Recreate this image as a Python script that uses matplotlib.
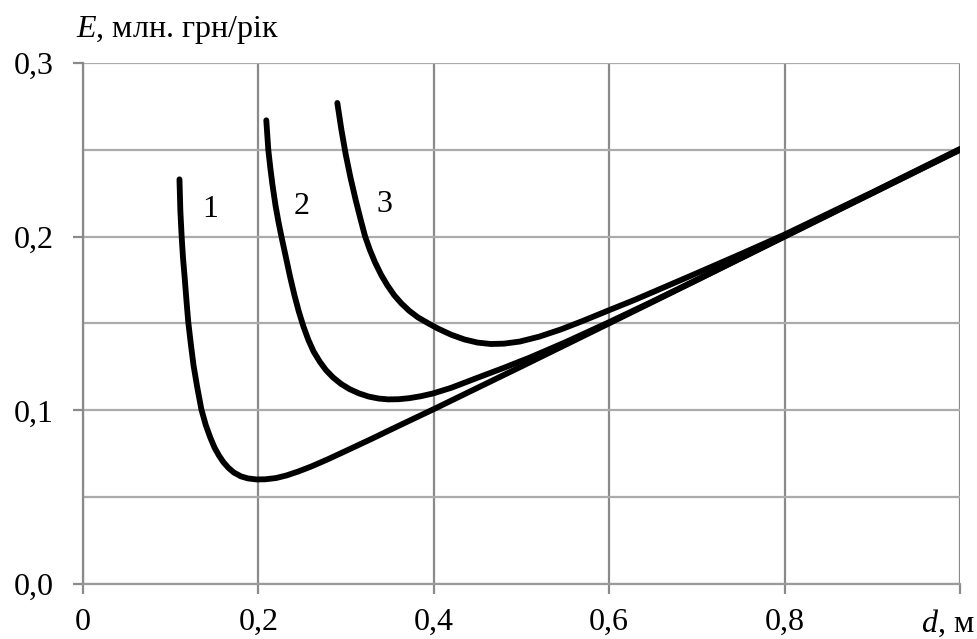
import matplotlib
matplotlib.use('Agg')
import matplotlib.pyplot as plt
from matplotlib.ticker import MultipleLocator, FixedLocator

plt.rcParams['font.family'] = ['Liberation Serif', 'DejaVu Serif']
plt.rcParams['mathtext.fontset'] = 'custom'
plt.rcParams['mathtext.rm'] = 'Liberation Serif'
plt.rcParams['mathtext.it'] = 'Liberation Serif:italic'

# curve 1
d1 = [0.110, 0.111, 0.1125, 0.114, 0.116, 0.118, 0.120, 0.123, 0.126, 0.130,
      0.135, 0.140, 0.145, 0.150, 0.155, 0.160, 0.166, 0.172, 0.180, 0.188,
      0.198, 0.208, 0.220, 0.232, 0.245, 0.260, 0.280, 0.300, 0.330, 0.360,
      0.400, 0.500, 0.600, 0.700, 0.800, 0.900, 1.000]
e1 = [0.233, 0.215, 0.200, 0.188, 0.176, 0.163, 0.151, 0.138, 0.126, 0.114,
      0.1005, 0.0915, 0.0845, 0.0785, 0.0740, 0.0702, 0.0668, 0.0642, 0.0620, 0.0608,
      0.0602, 0.0603, 0.0610, 0.0625, 0.0647, 0.0676, 0.0720, 0.0767, 0.0838, 0.0911,
      0.1007, 0.1253, 0.1501, 0.1750, 0.2000, 0.2250, 0.2500]

# curve 2
d2 = [0.2090, 0.2113, 0.2135, 0.2160, 0.2195, 0.2230, 0.2265, 0.231, 0.236, 0.241,
      0.246, 0.2512, 0.257, 0.263, 0.270, 0.277, 0.285, 0.294, 0.304, 0.315,
      0.326, 0.337, 0.348, 0.360, 0.372, 0.385, 0.399, 0.420, 0.450, 0.480,
      0.510, 0.550, 0.600, 0.650, 0.700, 0.800, 0.900, 1.000]
e2 = [0.2670, 0.2500, 0.2400, 0.2300, 0.2180, 0.2082, 0.1995, 0.1890, 0.1772, 0.1665,
      0.1570, 0.1485, 0.1405, 0.1338, 0.1280, 0.1232, 0.1190, 0.1153, 0.1122, 0.1097,
      0.1079, 0.1068, 0.1063, 0.1064, 0.1070, 0.1081, 0.1097, 0.1130, 0.1188, 0.1245,
      0.1305, 0.1392, 0.1508, 0.1628, 0.1752, 0.2003, 0.2252, 0.2502]

# curve 3
d3 = [0.290, 0.2945, 0.2995, 0.305, 0.311, 0.3165, 0.3216, 0.327, 0.333, 0.340,
      0.347, 0.355, 0.363, 0.372, 0.382, 0.393, 0.405, 0.420, 0.435, 0.450,
      0.465, 0.480, 0.498, 0.520, 0.545, 0.570, 0.600, 0.630, 0.660, 0.700,
      0.750, 0.800, 0.900, 1.000]
e3 = [0.2770, 0.2620, 0.2475, 0.2340, 0.2210, 0.2100, 0.2003, 0.1925, 0.1852, 0.1780,
      0.1720, 0.1662, 0.1616, 0.1573, 0.1535, 0.1503, 0.1470, 0.1435, 0.1408, 0.1390,
      0.1382, 0.1384, 0.1396, 0.1424, 0.1466, 0.1515, 0.1577, 0.1638, 0.1703, 0.1790,
      0.1900, 0.2012, 0.2255, 0.2505]

curve_labels = ['1', '2', '3']
label_pos = [(0.145, 0.2155), (0.249, 0.2175), (0.344, 0.2185)]

x_ticks = [0, 0.2, 0.4, 0.6, 0.8, 1.0]
x_ticklabels = ['0', '0,2', '0,4', '0,6', '0,8', '']
y_ticks = [0.0, 0.1, 0.2, 0.3]
y_ticklabels = ['0,0', '0,1', '0,2', '0,3']

fig = plt.figure(figsize=(9.77, 6.39), dpi=100)
ax = fig.add_axes([83 / 977, 55 / 639, 877 / 977, 521 / 639])

for dd, ee in [(d1, e1), (d2, e2), (d3, e3)]:
    ax.plot(dd, ee, color='black', lw=4.2, solid_capstyle='round',
            solid_joinstyle='round', zorder=3)

for txt, (x, y) in zip(curve_labels, label_pos):
    ax.text(x, y, txt, fontsize=23, ha='center', va='center', zorder=4)

ax.set_xlim(0, 1.0)
ax.set_ylim(0, 0.3)
ax.xaxis.set_major_locator(FixedLocator(x_ticks))
ax.set_xticklabels(x_ticklabels)
ax.yaxis.set_major_locator(FixedLocator(y_ticks))
ax.set_yticklabels(y_ticklabels)
ax.yaxis.set_minor_locator(MultipleLocator(0.05))

ax.grid(True, axis='x', which='major', color='#8a8a8a', lw=1.6, zorder=1)
ax.grid(True, axis='y', which='both', color='#ababab', lw=1.6, zorder=1)

for side in ['top', 'right']:
    ax.spines[side].set_visible(False)
ax.spines['left'].set_color('#8a8a8a')
ax.spines['left'].set_linewidth(1.6)
ax.spines['bottom'].set_color('#9a9a9a')
ax.spines['bottom'].set_linewidth(1.6)

ax.tick_params(axis='both', which='major', labelsize=23, color='#8a8a8a',
               length=7, width=1.6)
ax.tick_params(axis='y', which='major', pad=14)
ax.tick_params(axis='x', which='major', pad=10)
ax.tick_params(axis='y', which='minor', length=0)

# axis titles
fig.text(76 / 977, 1 - 37 / 639, r'$\mathit{E}$, млн. грн/рік', fontsize=23,
         ha='left', va='baseline')
fig.text(975 / 977, 1 - 632 / 639, r'$\mathit{d}$, м', fontsize=23,
         ha='right', va='baseline')

fig.savefig('out.png', dpi=100, facecolor='white')
